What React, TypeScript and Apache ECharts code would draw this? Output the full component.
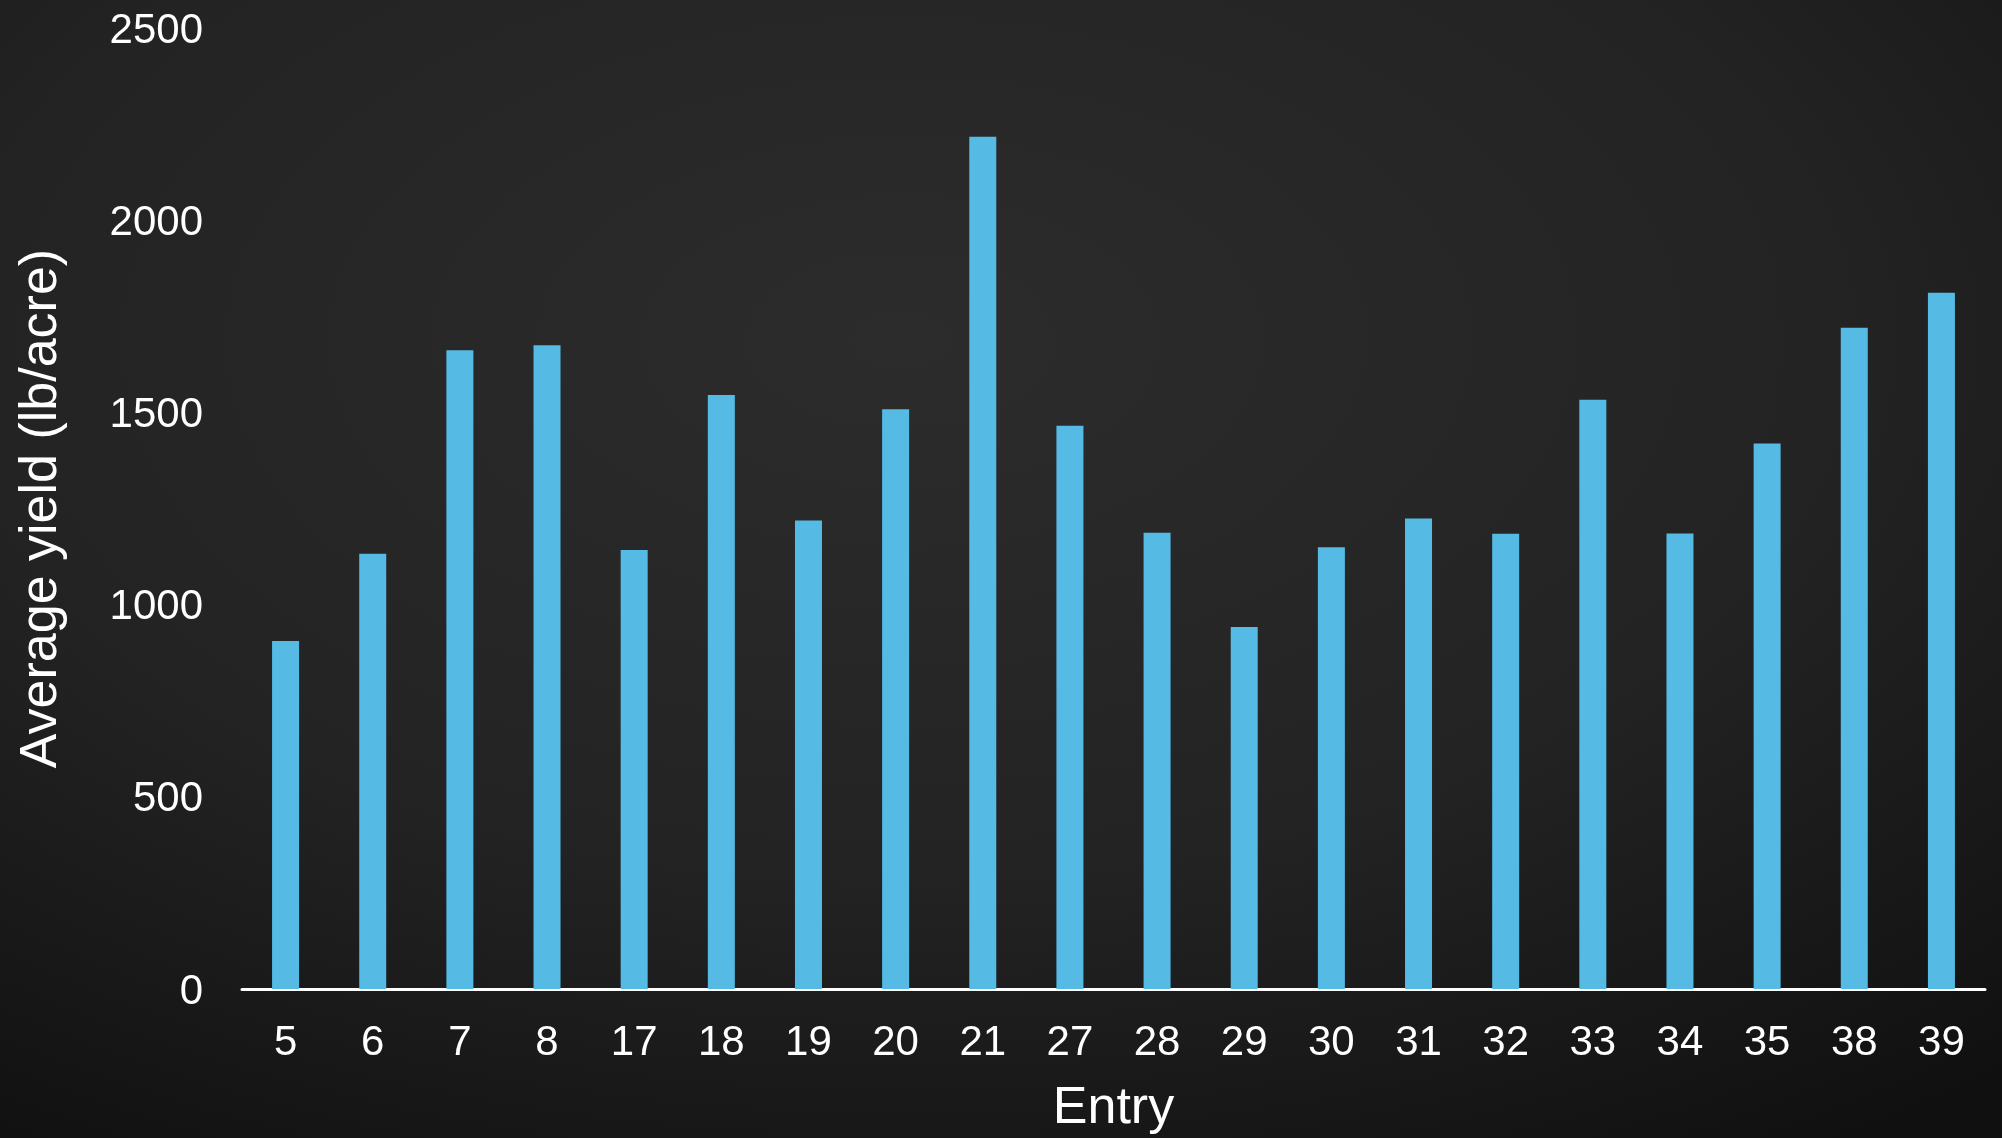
import React, { useEffect, useRef } from "react";
import * as echarts from "echarts";

const categories = ["5", "6", "7", "8", "17", "18", "19", "20", "21", "27", "28", "29", "30", "31", "32", "33", "34", "35", "38", "39"];
const yieldValues = [905, 1132, 1662, 1675, 1142, 1545, 1219, 1508, 2217, 1465, 1187, 942, 1149, 1224, 1184, 1533, 1185, 1419, 1720, 1811];
const yTicks = { min: 0, max: 2500, interval: 500 };

export default function App() {
  const ref = useRef<HTMLDivElement>(null);
  useEffect(() => {
    document.body.style.margin = "0";
    const chart = echarts.init(ref.current!, null, { renderer: "svg" });
    const font = "'Liberation Sans', Arial, Helvetica, sans-serif";
    chart.setOption({
      animation: false,
      backgroundColor: new echarts.graphic.RadialGradient(0.45, 0.3, 0.85, [
        { offset: 0, color: "#2c2c2c" },
        { offset: 0.55, color: "#232323" },
        { offset: 1, color: "#101010" },
      ]),
      grid: { left: 242, right: 17, top: 28, bottom: 149, containLabel: false },
      xAxis: {
        type: "category",
        data: categories,
        name: "Entry",
        nameLocation: "middle",
        nameGap: 90,
        nameTextStyle: { color: "#ffffff", fontSize: 52, fontFamily: font },
        axisLine: { show: true, lineStyle: { color: "#ffffff", width: 3 } },
        axisTick: { show: false },
        axisLabel: { color: "#ffffff", fontSize: 42, fontFamily: font, margin: 30, interval: 0 },
        splitLine: { show: false },
      },
      yAxis: {
        type: "value",
        min: yTicks.min,
        max: yTicks.max,
        interval: yTicks.interval,
        name: "Average yield (lb/acre)",
        nameLocation: "middle",
        nameGap: 178,
        nameTextStyle: { color: "#ffffff", fontSize: 52, fontFamily: font },
        axisLine: { show: false },
        axisTick: { show: false },
        axisLabel: {
          color: "#ffffff",
          fontSize: 42,
          fontFamily: font,
          margin: 39,
          formatter: (v: number) => String(v),
        },
        splitLine: { show: false },
      },
      series: [
        {
          type: "bar",
          data: yieldValues,
          barWidth: 27,
          itemStyle: { color: "#55bbe5" },
        },
      ],
    });
    return () => chart.dispose();
  }, []);
  return <div ref={ref} style={{ position: "fixed", left: 0, top: 0, width: 2002, height: 1138 }} />;
}
